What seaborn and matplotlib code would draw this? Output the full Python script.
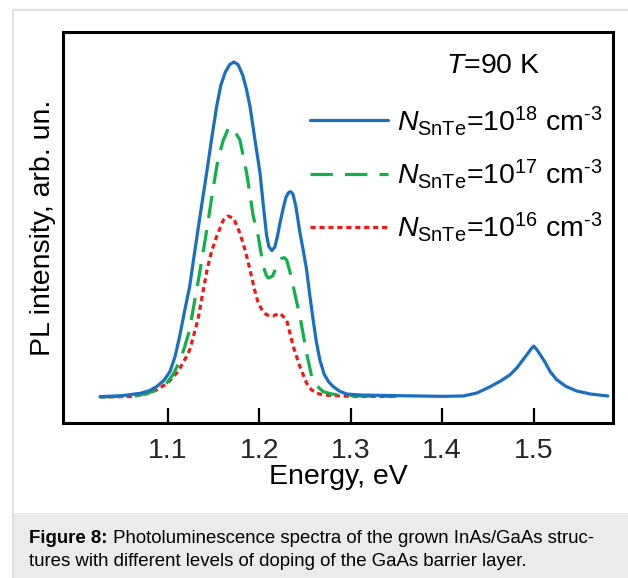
import matplotlib
matplotlib.use("Agg")
import matplotlib.pyplot as plt
import matplotlib.patches as mpatches
from matplotlib.lines import Line2D
import pandas as pd
import seaborn as sns

# Photoluminescence spectra, energy (eV) vs normalised intensity (arb. un.)
energy_1e18 = [1.026, 1.050, 1.070, 1.080, 1.088, 1.096, 1.1025, 1.108, 1.113, 1.118, 1.124,
               1.128, 1.132, 1.137, 1.1426, 1.148, 1.1535, 1.158, 1.163, 1.168, 1.1725,
               1.177, 1.182, 1.186, 1.190, 1.195, 1.2009, 1.205, 1.208, 1.2105, 1.2137,
               1.217, 1.2200, 1.2227, 1.226, 1.229, 1.2320, 1.2344, 1.237, 1.240, 1.2446,
               1.248, 1.2519, 1.2555, 1.259, 1.2625, 1.2664, 1.271, 1.276, 1.281, 1.288,
               1.2956, 1.31, 1.35, 1.40, 1.423, 1.438, 1.452, 1.464, 1.474, 1.482, 1.488,
               1.493, 1.497, 1.500, 1.503, 1.507, 1.512, 1.518, 1.525, 1.535, 1.547,
               1.562, 1.581]
intensity_1e18 = [0.001, 0.004, 0.011, 0.019, 0.031, 0.050, 0.076, 0.120, 0.180, 0.250, 0.329,
                  0.405, 0.479, 0.570, 0.669, 0.770, 0.867, 0.930, 0.970, 0.993, 1.000,
                  0.992, 0.961, 0.920, 0.867, 0.775, 0.669, 0.560, 0.485, 0.450, 0.437,
                  0.447, 0.480, 0.519, 0.560, 0.594, 0.610, 0.613, 0.605, 0.570, 0.490,
                  0.440, 0.379, 0.300, 0.230, 0.165, 0.110, 0.068, 0.045, 0.031, 0.017,
                  0.009, 0.006, 0.004, 0.002, 0.003, 0.012, 0.030, 0.048, 0.066, 0.088, 0.110,
                  0.128, 0.143, 0.152, 0.143, 0.127, 0.106, 0.076, 0.052, 0.032, 0.018,
                  0.009, 0.003]

energy_1e17 = [1.026, 1.062, 1.075, 1.085, 1.092, 1.099, 1.106, 1.112, 1.118, 1.124, 1.128,
               1.133, 1.138, 1.143, 1.150, 1.155, 1.1608, 1.167, 1.173, 1.179, 1.1863,
               1.1935, 1.199, 1.2045, 1.2075, 1.210, 1.2146, 1.219, 1.2246, 1.2275,
               1.230, 1.2335, 1.2373, 1.2446, 1.2519, 1.2574, 1.263, 1.270, 1.279,
               1.288, 1.31, 1.35]
intensity_1e17 = [0.000, 0.003, 0.009, 0.018, 0.028, 0.042, 0.068, 0.101, 0.145, 0.200, 0.265,
                  0.340, 0.420, 0.504, 0.628, 0.710, 0.767, 0.806, 0.794, 0.767, 0.669,
                  0.540, 0.479, 0.390, 0.365, 0.355, 0.361, 0.389, 0.414, 0.416,
                  0.409, 0.375, 0.329, 0.240, 0.130, 0.061, 0.033, 0.016, 0.009,
                  0.006, 0.003, 0.002]

energy_1e16 = [1.026, 1.060, 1.075, 1.088, 1.100, 1.110, 1.117, 1.124, 1.128, 1.133, 1.138,
               1.143, 1.148, 1.1535, 1.1608, 1.166, 1.172, 1.179, 1.185, 1.190, 1.195,
               1.199, 1.2035, 1.2082, 1.215, 1.2227, 1.230, 1.2373, 1.2446, 1.2519,
               1.257, 1.263, 1.271, 1.281, 1.30, 1.35]
intensity_1e16 = [0.000, 0.0015, 0.008, 0.021, 0.042, 0.072, 0.102, 0.140, 0.180, 0.230, 0.305,
                  0.379, 0.435, 0.479, 0.528, 0.540, 0.534, 0.489, 0.435, 0.379, 0.320,
                  0.280, 0.258, 0.245, 0.242, 0.250, 0.230, 0.150, 0.090, 0.041,
                  0.022, 0.011, 0.006, 0.004, 0.002, 0.0015]

doping_exponents = [18, 17, 16]
series_colors = ["#1a6fc0", "#10b04a", "#f21818"]
series_dashes = [None, (7.0, 3.8), (1.6, 1.2)]
temperature_label = "=90 K"
x_label = "Energy, eV"
y_label = "PL intensity, arb. un."
x_ticks = [1.1, 1.2, 1.3, 1.4, 1.5]
caption_bold = "Figure 8:"
caption_line1 = " Photoluminescence spectra of the grown InAs/GaAs struc-"
caption_line2 = "tures with different levels of doping of the GaAs barrier layer."
HYPHEN = "\u2010"

sns.set_theme(style="white")
plt.rcParams["font.family"] = ["Liberation Sans", "DejaVu Sans"]
plt.rcParams["mathtext.fontset"] = "custom"
plt.rcParams["mathtext.rm"] = "Liberation Sans"
plt.rcParams["mathtext.it"] = "Liberation Sans:italic"
plt.rcParams["mathtext.bf"] = "Liberation Sans:bold"

fig = plt.figure(figsize=(6.28, 5.78), dpi=100)
fig.patch.set_facecolor("white")

# page frame and caption band
fig.add_artist(mpatches.Rectangle((13 / 628, -0.1), 1.2, 1.1 - 10 / 578, transform=fig.transFigure,
                                  facecolor="white", edgecolor="#e2e2e2", linewidth=1.5, zorder=0))
fig.add_artist(mpatches.Rectangle((13.8 / 628, 0), 1.0, (578 - 513) / 578, transform=fig.transFigure,
                                  facecolor="#ebebeb", edgecolor="none", zorder=0.5))

ax = fig.add_axes([63 / 628, 1 - 423 / 578, 550 / 628, 391 / 578])

frames = []
spectra = [(energy_1e18, intensity_1e18), (energy_1e17, intensity_1e17), (energy_1e16, intensity_1e16)]
for exp_, (e, i) in zip(doping_exponents, spectra):
    frames.append(pd.DataFrame({"energy": e, "intensity": i, "doping": f"1e{exp_}"}))
df = pd.concat(frames, ignore_index=True)

# draw weakest first so the strongest spectrum lies on top
for idx in [2, 1, 0]:
    sub = df[df["doping"] == f"1e{doping_exponents[idx]}"]
    sns.lineplot(data=sub, x="energy", y="intensity", color=series_colors[idx], linewidth=2.3,
                 ax=ax, legend=False, sort=False, estimator=None)
    if series_dashes[idx] is not None:
        ax.lines[-1].set_dashes(series_dashes[idx])

handles, labels = [], []
for idx in range(3):
    h = Line2D([], [], color=series_colors[idx], linewidth=2.3)
    if series_dashes[idx] is not None:
        h.set_dashes(series_dashes[idx])
    handles.append(h)
    labels.append(r"$\mathit{N}_{\mathrm{SnTe}}$=10$^{%d}$ cm$^{" % doping_exponents[idx]
                  + HYPHEN + "3}$")

ax.set_xlim(0.9856, 1.5867)
ax.set_ylim(-0.0776, 1.0896)
ax.set_xticks(x_ticks)
ax.set_xticklabels([f"{t:.1f}" for t in x_ticks])
ax.set_yticks([])
ax.tick_params(axis="x", direction="in", length=11, width=1.6, color="black",
               labelsize=20.5, pad=11, bottom=True)
for sp in ax.spines.values():
    sp.set_color("black")
    sp.set_linewidth(2.2)
ax.set_xlabel(x_label, fontsize=20.5, labelpad=0, color="black")
ax.set_ylabel(y_label, fontsize=20.5, labelpad=5, color="black")

ax.text(0.782, 0.912, r"$\mathit{T}$" + temperature_label, transform=ax.transAxes,
        ha="center", va="center", fontsize=20.5, color="black")

leg = ax.legend(handles, labels, loc="upper right", bbox_to_anchor=(1.012, 0.86),
                frameon=False, fontsize=20.5, handlelength=2.75, handletextpad=0.3,
                labelspacing=0.69, borderaxespad=0.2)
for t in leg.get_texts():
    t.set_color("black")

# caption: bold lead-in followed by plain text on the same baseline
cap_x, cap_y1, cap_y2 = 29 / 628, 1 - 543 / 578, 1 - 566 / 578
t1 = fig.text(cap_x, cap_y1, caption_bold, fontsize=13.4, fontweight="bold",
              color="black", va="baseline", ha="left")
fig.canvas.draw()
bb = t1.get_window_extent()
fig.text(bb.x1 / fig.bbox.width, cap_y1, caption_line1, fontsize=13.4,
         color="black", va="baseline", ha="left")
fig.text(cap_x, cap_y2, caption_line2, fontsize=13.4,
         color="black", va="baseline", ha="left")

fig.savefig("out.png", dpi=100)
